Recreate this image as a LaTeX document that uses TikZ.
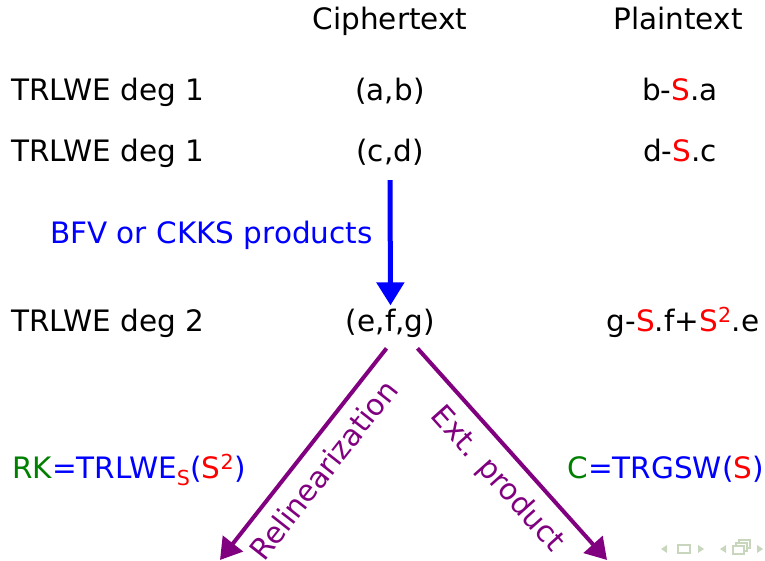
\documentclass[tikz,border=0pt]{standalone}
\usepackage{fontspec}
\setmainfont{DejaVu Sans}
\usetikzlibrary{arrows.meta,positioning,calc}
\definecolor{slBlue}{RGB}{0,0,255}
\definecolor{slRed}{RGB}{255,0,0}
\definecolor{slGreen}{RGB}{0,128,0}
\definecolor{slPurple}{RGB}{128,0,128}
\definecolor{slNav}{RGB}{200,214,190}
\newcommand{\sk}{\textcolor{slRed}{S}}
\tikzset{
  lbl/.style={font=\fontsize{29.5}{35}\selectfont, inner sep=0pt, anchor=base},
  rowlbl/.style={lbl, anchor=base west},
  prodarrow/.style={-{Triangle[length=23pt,width=27pt]}, line width=5pt, slBlue},
  keyarrow/.style={-{Triangle[length=21pt,width=25pt]}, line width=4pt, slPurple},
  arrowtag/.style={font=\fontsize{29.5}{35}\selectfont, text=slPurple, sloped, below, inner sep=12pt},
  navicon/.style={fill=slNav, draw=none}
}
\begin{document}
\begin{tikzpicture}[x=1pt,y=1pt]
  \useasboundingbox (0,0) rectangle (765,561);
  % column heads
  \node[lbl] (cipher) at (390,531) {Ciphertext};
  \node[lbl] (plain) at (678,531) {Plaintext};
  % rows
  \node[rowlbl] (row1) at (11,460) {TRLWE deg 1};
  \node[rowlbl] (row2) at (11,399) {TRLWE deg 1};
  \node[rowlbl] (row3) at (11,229) {TRLWE deg 2};
  \node[lbl] (ab) at (390,460) {(a,b)};
  \node[lbl] (cd) at (390,399) {(c,d)};
  \node[lbl] (efg) at (390.5,229) {(e,f,g)};
  \node[lbl] (pab) at (680,460) {b-\sk.a};
  \node[lbl] (pcd) at (680,399) {d-\sk.c};
  \node[lbl] (pefg) at (683,229) {g-\sk.f+\sk\textsuperscript{\textcolor{slRed}{2}}.e};
  % keys
  \node[rowlbl] (rk) at (12,82) {\textcolor{slGreen}{RK}\textcolor{slBlue}{=TRLWE\textsubscript{\sk}(\sk\textsuperscript{\textcolor{slRed}{2}})}};
  \node[lbl, anchor=base east] (bk) at (764,82) {\textcolor{slGreen}{C}\textcolor{slBlue}{=TRGSW(\sk)}};
  % product
  \node[rowlbl, text=slBlue] (prodtag) at (50,317) {BFV or CKKS products};
  \draw[prodarrow] ([yshift=-14pt]cd.south) -- ([yshift=4pt]efg.north);
  % relinearization and external product
  \coordinate (relend) at (220,1);
  \coordinate (extend) at (607,1);
  \draw[keyarrow] ([xshift=-4pt,yshift=-10pt]efg.south) -- (relend)
    node[arrowtag, midway] (reltag) {Relinearization};
  \draw[keyarrow] ([xshift=27pt,yshift=-10pt]efg.south) -- (extend)
    node[arrowtag, pos=0.53] (exttag) {Ext. product};
  % navigation symbols
  \fill[navicon] (667,16) -- (661,12) -- (667,8) -- cycle;
  \draw[slNav, line width=1.2pt] (678,8) rectangle (690,16);
  \fill[navicon] (698,16) -- (704,12) -- (698,8) -- cycle;
  \fill[navicon] (726,16) -- (720,12) -- (726,8) -- cycle;
  \draw[slNav, line width=1.2pt] (733,7) rectangle (744,15)
    (736,15) -- (736,18) -- (747,18) -- (747,10) -- (744,10)
    (739,18) -- (739,21) -- (750,21) -- (750,13) -- (747,13);
  \fill[navicon] (757,16) -- (763,12) -- (757,8) -- cycle;
\end{tikzpicture}
\end{document}
